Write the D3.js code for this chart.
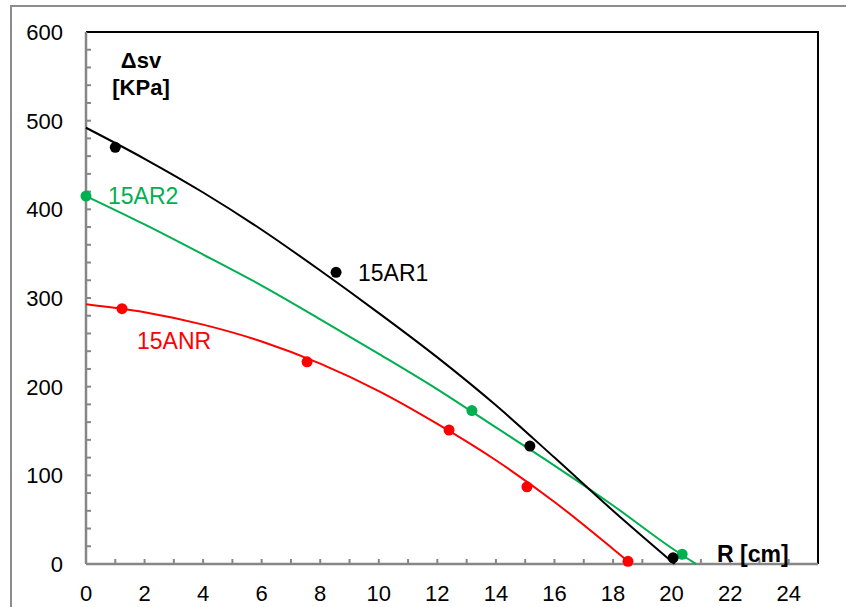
<!DOCTYPE html>
<html>
<head>
<meta charset="utf-8">
<script src="https://cdn.jsdelivr.net/npm/d3@7"></script>
<style>
  html, body { margin: 0; padding: 0; background: #fff; }
  svg { display: block; font-family: "Liberation Sans", Arial, sans-serif; }
</style>
</head>
<body>
<script>
// measured points, R [cm] vs Δsv [KPa]
const ar1X = [1.0, 8.54, 15.16, 20.05];
const ar1Y = [470, 329, 133, 7];
const ar2X = [0, 13.18, 20.36];
const ar2Y = [415, 173, 11];
const anrX = [1.23, 7.55, 12.4, 15.06, 18.51];
const anrY = [288, 228, 151, 87, 3];

// trend curves
const ar1CurveX = [0, 2, 4, 6, 8, 10, 12, 14, 16, 18, 20.1];
const ar1CurveY = [492, 457, 419, 377, 331, 283, 233, 179, 120, 60, 0];
const ar2CurveX = [0, 2, 4, 6, 8, 10, 12, 14, 16, 18, 20, 20.83];
const ar2CurveY = [415, 383, 349, 314, 276, 237, 197, 154, 111, 66, 18, 0];
const anrCurveX = [0, 2, 4, 6, 8, 10, 12, 14, 16, 18, 18.55];
const anrCurveY = [293, 284, 270, 251, 226, 195, 158, 117, 70, 17, 2];

const xTicks = [0, 2, 4, 6, 8, 10, 12, 14, 16, 18, 20, 22, 24];
const yTicks = [0, 100, 200, 300, 400, 500, 600];

const width = 846;
const height = 607;
const plot = { left: 86, right: 818, top: 32, bottom: 564 };

const x = d3.scaleLinear().domain([0, 25]).range([plot.left, plot.right]);
const y = d3.scaleLinear().domain([0, 600]).range([plot.bottom, plot.top]);

const svg = d3.select('body').append('svg')
  .attr('width', width)
  .attr('height', height);

// outer chart frame (runs off the right and bottom edge)
svg.append('rect')
  .attr('x', 11).attr('y', 6)
  .attr('width', 900).attr('height', 700)
  .attr('fill', 'none')
  .attr('stroke', '#8c8c8c')
  .attr('stroke-width', 2);

// plot border top/right
svg.append('path')
  .attr('d', `M${plot.left},${plot.top}H${plot.right}V${plot.bottom}`)
  .attr('fill', 'none')
  .attr('stroke', '#000')
  .attr('stroke-width', 2);

const axisColor = '#868686';

// minor ticks inside the plot
svg.append('g').selectAll('line')
  .data(d3.range(1, 25))
  .join('line')
  .attr('x1', d => x(d)).attr('x2', d => x(d))
  .attr('y1', plot.bottom).attr('y2', plot.bottom - 5)
  .attr('stroke', axisColor).attr('stroke-width', 2);

svg.append('g').selectAll('line')
  .data(d3.range(20, 600, 20))
  .join('line')
  .attr('x1', plot.left).attr('x2', plot.left + 5)
  .attr('y1', d => y(d)).attr('y2', d => y(d))
  .attr('stroke', axisColor).attr('stroke-width', 2);

// axis lines
svg.append('line')
  .attr('x1', plot.left).attr('x2', plot.right)
  .attr('y1', plot.bottom).attr('y2', plot.bottom)
  .attr('stroke', axisColor).attr('stroke-width', 2.5);
svg.append('line')
  .attr('x1', plot.left).attr('x2', plot.left)
  .attr('y1', plot.top).attr('y2', plot.bottom)
  .attr('stroke', axisColor).attr('stroke-width', 2.5);

// tick labels
svg.append('g').selectAll('text')
  .data(xTicks)
  .join('text')
  .attr('x', d => x(d))
  .attr('y', plot.bottom + 37)
  .attr('text-anchor', 'middle')
  .attr('font-size', 22)
  .text(d => d);

svg.append('g').selectAll('text')
  .data(yTicks)
  .join('text')
  .attr('x', plot.left - 23)
  .attr('y', d => y(d) + 8)
  .attr('text-anchor', 'end')
  .attr('font-size', 22)
  .text(d => d);

// axis titles
svg.append('text')
  .attr('x', 141).attr('y', 68)
  .attr('text-anchor', 'middle')
  .attr('font-size', 22).attr('font-weight', 'bold')
  .text('Δsv');
svg.append('text')
  .attr('x', 141).attr('y', 95)
  .attr('text-anchor', 'middle')
  .attr('font-size', 22).attr('font-weight', 'bold')
  .text('[KPa]');
svg.append('text')
  .attr('x', 717).attr('y', 562)
  .attr('font-size', 23).attr('font-weight', 'bold')
  .text('R [cm]');

const line = d3.line()
  .x(d => x(d[0]))
  .y(d => y(d[1]))
  .curve(d3.curveMonotoneX);

const series = [
  { name: '15ANR', color: '#ff0000', cx: anrCurveX, cy: anrCurveY, px: anrX, py: anrY, lx: 137, ly: 349 },
  { name: '15AR2', color: '#00b050', cx: ar2CurveX, cy: ar2CurveY, px: ar2X, py: ar2Y, lx: 108, ly: 204 },
  { name: '15AR1', color: '#000000', cx: ar1CurveX, cy: ar1CurveY, px: ar1X, py: ar1Y, lx: 358, ly: 281 },
];

series.forEach(s => {
  svg.append('path')
    .datum(d3.zip(s.cx, s.cy))
    .attr('d', line)
    .attr('fill', 'none')
    .attr('stroke', s.color)
    .attr('stroke-width', 2);

  svg.append('g').selectAll('circle')
    .data(d3.zip(s.px, s.py))
    .join('circle')
    .attr('cx', d => x(d[0]))
    .attr('cy', d => y(d[1]))
    .attr('r', 5.5)
    .attr('fill', s.color);

  svg.append('text')
    .attr('x', s.lx).attr('y', s.ly)
    .attr('font-size', 23)
    .attr('fill', s.color)
    .text(s.name);
});
</script>
</body>
</html>
